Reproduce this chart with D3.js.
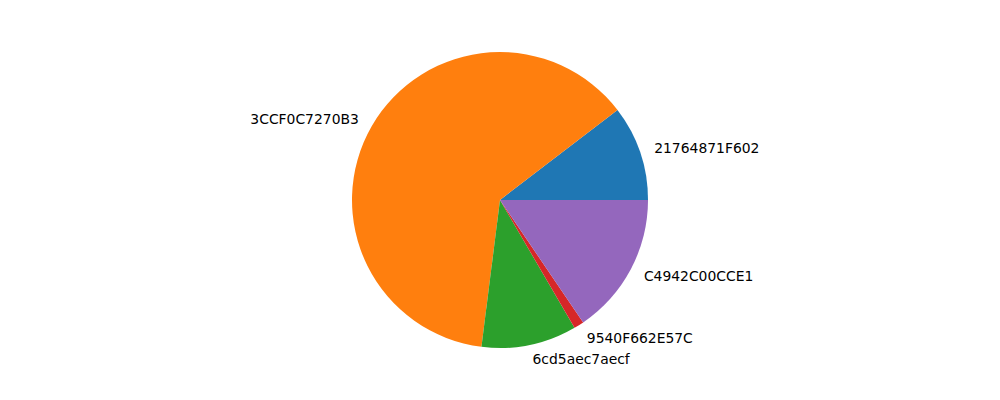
<!DOCTYPE html>
<html>
<head>
<meta charset="utf-8">
<script src="https://cdn.jsdelivr.net/npm/d3@7"></script>
<style>
  body { margin: 0; background: #fff; }
  text { font-family: "DejaVu Sans", sans-serif; font-size: 13.9px; fill: #000; }
</style>
</head>
<body>
<svg id="chart" width="1000" height="400"></svg>
<script>
// slice labels and shares (percent)
var labels = ["21764871F602", "3CCF0C7270B3", "6cd5aec7aecf", "9540F662E57C", "C4942C00CCE1"];
var values = [10.4, 62.6, 10.4, 1.1, 15.5];
var colors = ["#1f77b4", "#ff7f0e", "#2ca02c", "#d62728", "#9467bd"];

var cx = 500, cy = 200, radius = 148;

var svg = d3.select("#chart");
var g = svg.append("g").attr("transform", "translate(" + cx + "," + cy + ")");

// matplotlib style: start at 3 o'clock, go counterclockwise
// d3 angles are clockwise from 12 o'clock, so map a = PI/2 - theta
var pie = d3.pie().sort(null).value(function (d) { return d; })
  .startAngle(Math.PI / 2).endAngle(Math.PI / 2 - 2 * Math.PI);

var arcs = pie(values);
var arc = d3.arc().innerRadius(0).outerRadius(radius);

g.selectAll("path")
  .data(arcs)
  .enter()
  .append("path")
  .attr("d", arc)
  .attr("fill", function (d, i) { return colors[i]; });

// labels at 1.1 * radius, mid angle
g.selectAll("text")
  .data(arcs)
  .enter()
  .append("text")
  .attr("x", function (d) {
    var a = (d.startAngle + d.endAngle) / 2;
    return Math.sin(a) * radius * 1.1;
  })
  .attr("y", function (d) {
    var a = (d.startAngle + d.endAngle) / 2;
    return -Math.cos(a) * radius * 1.1;
  })
  .attr("dy", "0.35em")
  .attr("text-anchor", function (d) {
    var a = (d.startAngle + d.endAngle) / 2;
    return Math.sin(a) >= 0 ? "start" : "end";
  })
  .text(function (d, i) { return labels[i]; });
</script>
</body>
</html>
